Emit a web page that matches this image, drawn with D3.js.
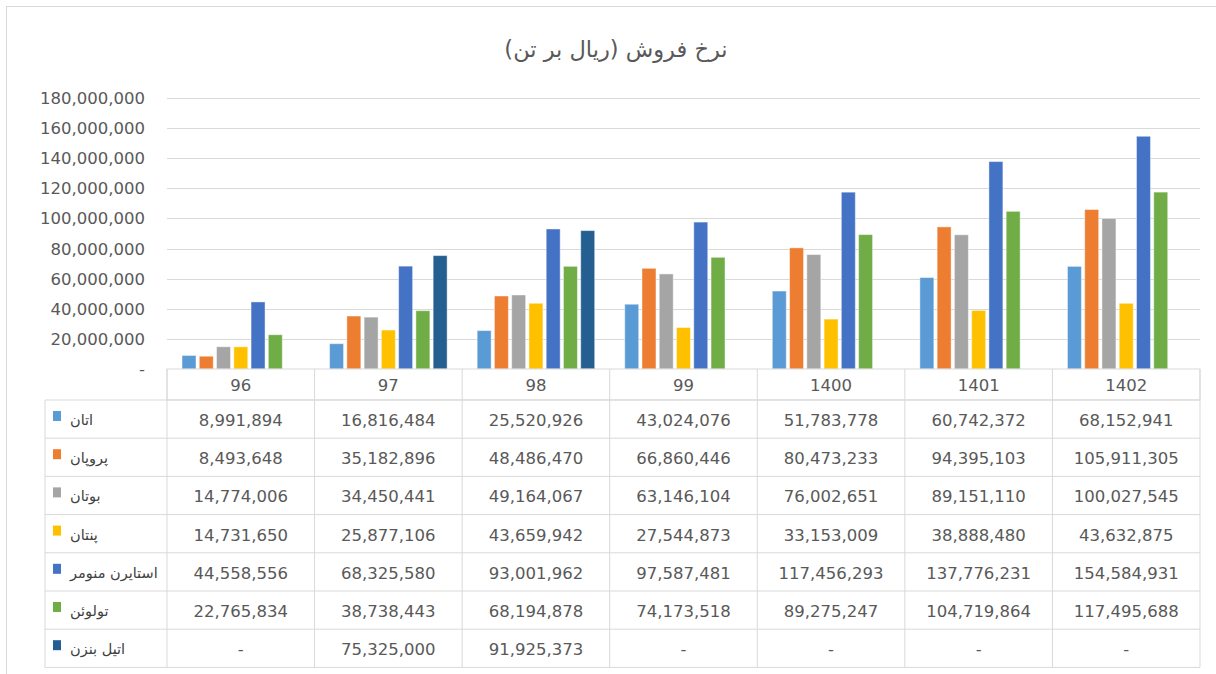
<!DOCTYPE html>
<html>
<head>
<meta charset="utf-8">
<script src="https://cdn.jsdelivr.net/npm/d3@7"></script>
<style>
body { margin: 0; background: #fff; }
</style>
</head>
<body>
<div id="canvas"></div>
<script>
var w = 1216;
var h = 674;

// chart data
var years = ["96", "97", "98", "99", "1400", "1401", "1402"];
var products = ["اتان", "پروپان", "بوتان", "پنتان", "استایرن منومر", "تولوئن", "اتیل بنزن"];
var ethane = [8991894, 16816484, 25520926, 43024076, 51783778, 60742372, 68152941];
var propane = [8493648, 35182896, 48486470, 66860446, 80473233, 94395103, 105911305];
var butane = [14774006, 34450441, 49164067, 63146104, 76002651, 89151110, 100027545];
var pentane = [14731650, 25877106, 43659942, 27544873, 33153009, 38888480, 43632875];
var styrene = [44558556, 68325580, 93001962, 97587481, 117456293, 137776231, 154584931];
var toluene = [22765834, 38738443, 68194878, 74173518, 89275247, 104719864, 117495688];
var ethylbenzene = [null, 75325000, 91925373, null, null, null, null];
var yTicks = [0, 20000000, 40000000, 60000000, 80000000, 100000000, 120000000, 140000000, 160000000, 180000000];
var colors = ["#5B9BD5", "#ED7D31", "#A5A5A5", "#FFC000", "#4472C4", "#70AD47", "#255E91"];

var seriesValues = [ethane, propane, butane, pentane, styrene, toluene, ethylbenzene];
var series = products.map(function(p, i){
	return {name: p, values: seriesValues[i], color: colors[i]};
});

var numFont = "'DejaVu Sans', sans-serif";
var textColor = "#595959";

var svg = d3.select("#canvas").append("svg")
	.attr("width", w)
	.attr("height", h)
	.style("display", "block");

// chart border
svg.append("rect")
	.attr("x", 6.5).attr("y", 6.5)
	.attr("width", 1216).attr("height", 700)
	.attr("fill", "#fff")
	.attr("stroke", "#d9d9d9");

var plotLeft = 167, plotRight = 1200, plotTop = 98, plotBottom = 369;

var xScale = d3.scaleBand()
	.domain(years)
	.range([plotLeft, plotRight]);

var x1 = d3.scaleBand()
	.domain(d3.range(products.length))
	.range([0, xScale.bandwidth()])
	.paddingInner(0.19)
	.paddingOuter(0.87);

var yScale = d3.scaleLinear()
	.domain([0, 180000000])
	.range([plotBottom, plotTop]);

// gridlines
svg.append("g").selectAll("line")
	.data(yTicks.slice(1))
	.join("line")
	.attr("x1", plotLeft).attr("x2", plotRight)
	.attr("y1", function(d){ return Math.round(yScale(d)) + 0.5; })
	.attr("y2", function(d){ return Math.round(yScale(d)) + 0.5; })
	.attr("stroke", "#d9d9d9")
	.attr("stroke-width", 1);

// y axis labels
svg.append("g").selectAll("text")
	.data(yTicks)
	.join("text")
	.attr("x", 145)
	.attr("y", function(d){ return yScale(d) + 6; })
	.attr("text-anchor", "end")
	.attr("font-family", numFont)
	.attr("font-size", 16.5)
	.attr("fill", textColor)
	.text(function(d){ return d === 0 ? "-" : d3.format(",")(d); });

// bars
var groups = svg.append("g").selectAll("g")
	.data(series)
	.join("g")
	.attr("fill", function(d){ return d.color; });

groups.selectAll("rect")
	.data(function(d, i){
		return d.values.map(function(v, j){ return {year: years[j], value: v, idx: i}; })
			.filter(function(e){ return e.value !== null; });
	})
	.join("rect")
	.attr("x", function(d){ return xScale(d.year) + x1(d.idx); })
	.attr("y", function(d){ return yScale(d.value); })
	.attr("width", x1.bandwidth())
	.attr("height", function(d){ return plotBottom - yScale(d.value); })
	.attr("stroke", "#ffffff")
	.attr("stroke-opacity", 0.45)
	.attr("stroke-width", 1);

// data table
var headerTop = 369, rowTop = 400, rowH = 38.2;
var tableLeft = 45;
var grid = svg.append("g")
	.attr("stroke", "#d9d9d9")
	.attr("stroke-width", 1)
	.attr("fill", "none");

// header row
grid.append("rect")
	.attr("x", plotLeft).attr("y", headerTop)
	.attr("width", plotRight - plotLeft).attr("height", rowTop - headerTop);
// rows
grid.selectAll(".rowline")
	.data(d3.range(products.length + 1))
	.join("line")
	.attr("x1", tableLeft).attr("x2", plotRight)
	.attr("y1", function(i){ return rowTop + i * rowH; })
	.attr("y2", function(i){ return rowTop + i * rowH; });
// columns
grid.selectAll(".colline")
	.data(years.concat(["end"]))
	.join("line")
	.attr("x1", function(d, i){ return plotLeft + i * xScale.step(); })
	.attr("x2", function(d, i){ return plotLeft + i * xScale.step(); })
	.attr("y1", headerTop)
	.attr("y2", rowTop + products.length * rowH);
grid.append("line")
	.attr("x1", tableLeft).attr("x2", tableLeft)
	.attr("y1", rowTop).attr("y2", rowTop + products.length * rowH);

// header labels
svg.append("g").selectAll("text")
	.data(years)
	.join("text")
	.attr("x", function(d){ return xScale(d) + xScale.bandwidth() / 2; })
	.attr("y", headerTop + 22)
	.attr("text-anchor", "middle")
	.attr("font-family", numFont)
	.attr("font-size", 16.5)
	.attr("fill", textColor)
	.text(function(d){ return d; });

// row keys + names
var rows = svg.append("g").selectAll("g")
	.data(series)
	.join("g")
	.attr("transform", function(d, i){ return "translate(0," + (rowTop + i * rowH) + ")"; });

rows.append("rect")
	.attr("x", 53).attr("y", 11)
	.attr("width", 8).attr("height", 10)
	.attr("fill", function(d){ return d.color; });

rows.append("text")
	.attr("x", 70)
	.attr("y", 25)
	.attr("font-family", "'DejaVu Sans', sans-serif")
	.attr("font-size", 14.5)
	.attr("fill", "#404040")
	.text(function(d){ return d.name; });

rows.selectAll(".val")
	.data(function(d){ return d.values; })
	.join("text")
	.attr("x", function(v, j){ return xScale(years[j]) + xScale.bandwidth() / 2; })
	.attr("y", 26)
	.attr("text-anchor", "middle")
	.attr("font-family", numFont)
	.attr("font-size", 16.5)
	.attr("fill", textColor)
	.text(function(v){ return v === null ? "-" : d3.format(",")(v); });

// title
svg.append("text")
	.attr("x", 616)
	.attr("y", 57)
	.attr("text-anchor", "middle")
	.attr("direction", "rtl")
	.attr("font-family", "'DejaVu Sans', sans-serif")
	.attr("font-size", 22.5)
	.attr("fill", textColor)
	.text("نرخ فروش (ریال بر تن)");
</script>
</body>
</html>
